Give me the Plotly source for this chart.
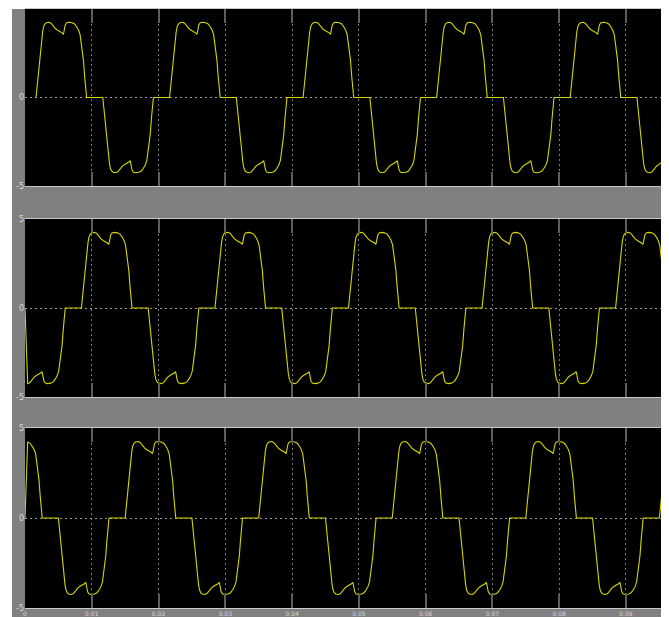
import plotly.graph_objects as go
from plotly.subplots import make_subplots

# ---- axis ticks ----
x_tick_vals = [0, 0.01, 0.02, 0.03, 0.04, 0.05, 0.06, 0.07, 0.08, 0.09]
x_tick_text = ["0", "0.01", "0.02", "0.03", "0.04", "0.05", "0.06", "0.07", "0.08", "0.09"]
y_tick_vals = [-5, 0, 5]
y_tick_text = ["-5", "0", "5"]
x_range = [0, 0.0954]
y_range = [-5, 5]

# ---- shape of one current pulse (time into pulse [ms], current [A]) ----
pulse_tau_ms = [0.00, 0.23, 0.50, 0.75, 0.99, 1.14, 1.32, 1.55, 1.95, 2.25, 2.55, 2.93,
                3.30, 3.60, 3.90, 4.10, 4.23, 4.38, 4.59, 4.95, 5.40, 5.78, 6.08, 6.38,
                6.60, 6.83, 6.98, 7.10, 7.28, 7.43, 7.58]
pulse_amp = [0.00, 0.90, 1.90, 2.90, 3.70, 4.00, 4.15, 4.22, 4.25, 4.20, 4.05, 3.88,
             3.78, 3.72, 3.65, 3.57, 3.85, 4.10, 4.22, 4.25, 4.22, 4.15, 4.00, 3.80,
             3.55, 3.00, 2.50, 2.10, 1.20, 0.40, 0.00]

# ---- pulse start times [ms] and polarity for each phase ----
phase_a_starts = [1.65, 11.65, 21.65, 31.65, 41.65, 51.65, 61.65, 71.65, 81.65, 91.65]
phase_a_signs = [1, -1, 1, -1, 1, -1, 1, -1, 1, -1]
phase_b_starts = [-1.55, 8.45, 18.45, 28.45, 38.45, 48.45, 58.45, 68.45, 78.45, 88.45]
phase_b_signs = [-1, 1, -1, 1, -1, 1, -1, 1, -1, 1]
phase_c_starts = [-5.0, 5.0, 15.0, 25.0, 35.0, 45.0, 55.0, 65.0, 75.0, 85.0, 95.0]
phase_c_signs = [1, -1, 1, -1, 1, -1, 1, -1, 1, -1, 1]


def build(starts, signs):
    xs, ys = [], []
    if starts[0] < 0:
        xs.append(0.0)
        ys.append(0.0)
    for s, sg in zip(starts, signs):
        for tau, a in zip(pulse_tau_ms, pulse_amp):
            t = s + tau
            if t > 0:
                xs.append(t / 1000.0)
                ys.append(sg * a)
    return xs, ys


phases = [(phase_a_starts, phase_a_signs),
          (phase_b_starts, phase_b_signs),
          (phase_c_starts, phase_c_signs)]

W, H = 669, 617
OFF = 8  # page offset of the figure inside the browser window
ml, mt = 25 - OFF, 9 - OFF
mr = W - (662 - OFF)
mb = H - (608 - OFF)
ph = H - mt - mb
pw = W - ml - mr


def dom(top_px, bot_px):
    top_px -= OFF
    bot_px -= OFF
    return [1 - (bot_px - mt) / ph, 1 - (top_px - mt) / ph]


domains = [dom(9, 186), dom(219, 397), dom(428, 608)]

fig = make_subplots(rows=3, cols=1, shared_xaxes=False)

line_col = "#d6d600"
for i, (st, sg) in enumerate(phases):
    xs, ys = build(st, sg)
    fig.add_trace(go.Scatter(x=xs, y=ys, mode="lines",
                             line=dict(color=line_col, width=1.1),
                             showlegend=False, hoverinfo="skip"),
                  row=i + 1, col=1)

for i in range(3):
    r = i + 1
    fig.update_xaxes(row=r, col=1, range=x_range, tickvals=x_tick_vals,
                     ticktext=x_tick_text, showticklabels=(r == 3), automargin=False,
                     showgrid=True, gridcolor="#7a7a7a", griddash="2px,3px", gridwidth=1,
                     zeroline=False, showline=True, linecolor="#c8c8c8", linewidth=1,
                     mirror="ticks", ticks="inside", ticklen=14, tickwidth=1.5,
                     tickcolor="#5e5e5e", ticklabelstandoff=0,
                     tickfont=dict(family="DejaVu Sans", size=6, color="#d8d8d8"),
                     fixedrange=True)
    fig.update_yaxes(row=r, col=1, range=y_range, tickvals=y_tick_vals,
                     ticktext=y_tick_text, domain=domains[i], automargin=False,
                     showgrid=True, gridcolor="#9a9a9a", griddash="2px,3px", gridwidth=1,
                     zeroline=False, showline=False, ticks="",
                     tickfont=dict(family="DejaVu Sans", size=8, color="#d8d8d8"),
                     fixedrange=True)

# white areas around the grey scope frame
shapes = [
    dict(type="rect", xref="paper", yref="paper", x0=-0.2, x1=(12 - OFF - ml) / pw,
         y0=-0.2, y1=1.2, fillcolor="white", line=dict(width=0), layer="below"),
    dict(type="rect", xref="paper", yref="paper", x0=1.0, x1=1.2,
         y0=-0.2, y1=1.2, fillcolor="white", line=dict(width=0), layer="below"),
    dict(type="rect", xref="paper", yref="paper", x0=-0.2, x1=1.2,
         y0=1.0, y1=1.2, fillcolor="white", line=dict(width=0), layer="below"),
]

fig.update_layout(width=W, height=H, margin=dict(l=ml, r=mr, t=mt, b=mb),
                  paper_bgcolor="#808080", plot_bgcolor="#000000",
                  shapes=shapes, showlegend=False)

fig.write_html("out.html")
